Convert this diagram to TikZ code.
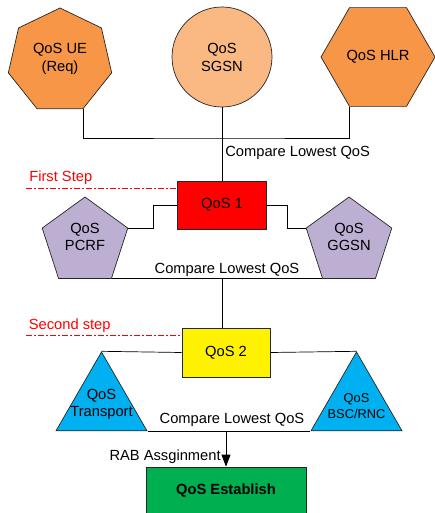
\documentclass[tikz,border=0pt]{standalone}
\usepackage{fontspec}
\setmainfont{Liberation Sans}
\usepackage{tikz}
\usetikzlibrary{shapes.geometric,arrows.meta,positioning}
\definecolor{qosorange}{HTML}{F79646}
\definecolor{qoslight}{HTML}{FAB883}
\definecolor{qospurple}{HTML}{BDAFD2}
\definecolor{qosblue}{HTML}{00B0F0}
\definecolor{qosgreen}{HTML}{00B050}
\tikzset{
  lbl/.style={font=\fontsize{14.7}{18}\selectfont, align=center, inner sep=1},
  lbltwo/.style={font=\fontsize{14.7}{17}\selectfont, align=center, inner sep=1},
  polyshape/.style={regular polygon, draw=black!85, inner sep=0},
  qosbox/.style={rectangle, draw=black!85, inner sep=0, font=\fontsize{14.7}{18}\selectfont},
  stepline/.style={red, dash pattern=on 6pt off 2pt on 2pt off 2pt},
  steptext/.style={red, font=\fontsize{14.7}{18}\selectfont, inner sep=3}
}
\begin{document}
\begin{tikzpicture}[x=1pt, y=-1pt, line width=0.7pt]
  \useasboundingbox (0,0) rectangle (435,513);
  \clip (0,0) rectangle (435,513);
  \node [polyshape, regular polygon sides=7, minimum size=106, fill=qosorange] (ue) at (60,61) {};
  \node [circle, draw=black!85, fill=qoslight, minimum size=100, inner sep=0] (sgsn) at (222,57) {};
  \node [polyshape, regular polygon sides=6, minimum size=114, fill=qosorange] (hlr) at (378,57) {};
  \node [lbl] (ueLbl) at ([yshift=2]ue.center) {QoS UE\\(Req)};
  \node [lbl] (sgsnLbl) at (sgsn) {QoS\\SGSN};
  \node [lbl] (hlrLbl) at (hlr) {QoS HLR};
  \coordinate (join1) at (222,138);
  \draw (ue.corner 5) |- (join1) -| (hlr.240);
  \node [qosbox, fill=red, minimum width=89, minimum height=48] (qos1) at (222,205) {QoS 1};
  \draw (sgsn) -- (qos1) node [pos=0.62, right, lbl, inner sep=3] (cmp1) {Compare Lowest QoS};
  \coordinate (step1) at (26,188);
  \draw [stepline] (step1) -- (step1 -| qos1.west);
  \node [steptext, above right] (firstLbl) at (step1) {First Step};

  \node [polyshape, regular polygon sides=5, minimum size=90, fill=qospurple] (pcrf) at (85,242) {};
  \node [polyshape, regular polygon sides=5, minimum size=90, fill=qospurple] (ggsn) at (349,242) {};
  \node [lbltwo] (pcrfLbl) at ([yshift=5]pcrf.center) {QoS\\PCRF};
  \node [lbltwo] (ggsnLbl) at ([yshift=5]ggsn.center) {QoS\\GGSN};
  \draw (qos1.west) -- ++(-24,0) |- (pcrf.corner 5);
  \draw (qos1.east) -- ++(20,0) |- (ggsn.corner 2);
  \draw (pcrf.corner 4) -- (ggsn.corner 3) node [midway, above, xshift=10, lbl, inner sep=1.5] (cmp2) {Compare Lowest QoS};

  \node [qosbox, fill=yellow, minimum width=88, minimum height=49] (qos2) at (226,352.5) {QoS 2};
  \coordinate (drop1) at (qos1 |- pcrf.corner 4);
  \draw (drop1) -- (drop1 |- qos2.north);
  \coordinate (step2) at (26,335);
  \draw [stepline] (step2) -- (step2 -| qos2.west);
  \node [steptext, above right, inner sep=2.5] (secondLbl) at (step2) {Second step};

  \node [polyshape, regular polygon sides=3, minimum size=105, fill=qosblue] (transport) at (101.5,404.5) {};
  \node [polyshape, regular polygon sides=3, minimum size=105, fill=qosblue] (bsc) at (356.5,404.5) {};
  \node [lbltwo] (transLbl) at (transport.center) {QoS\\Transport};
  \node [lbltwo, font=\fontsize{12.8}{16.5}\selectfont] (bscLbl) at ([yshift=-1.5]bsc.center) {QoS\\BSC/RNC};
  \draw (qos2.west) -- (transport.corner 1);
  \draw (qos2.east) -- (bsc.corner 1);
  \draw (transport.corner 3) -- (bsc.corner 2) node [midway, above, xshift=3, lbl, inner sep=4.5] (cmp3) {Compare Lowest QoS};

  \node [qosbox, fill=qosgreen, minimum width=160, minimum height=48, font=\fontsize{14.7}{18}\selectfont\bfseries] (establish) at (226,491) {QoS Establish};
  \coordinate (drop2) at (establish |- transport.corner 3);
  \draw [-{Triangle[width=9pt,length=12pt]}] (drop2) -- (establish.north) node [pos=0.72, left, lbl, inner sep=5] (rabLbl) {RAB Assginment};
\end{tikzpicture}
\end{document}
